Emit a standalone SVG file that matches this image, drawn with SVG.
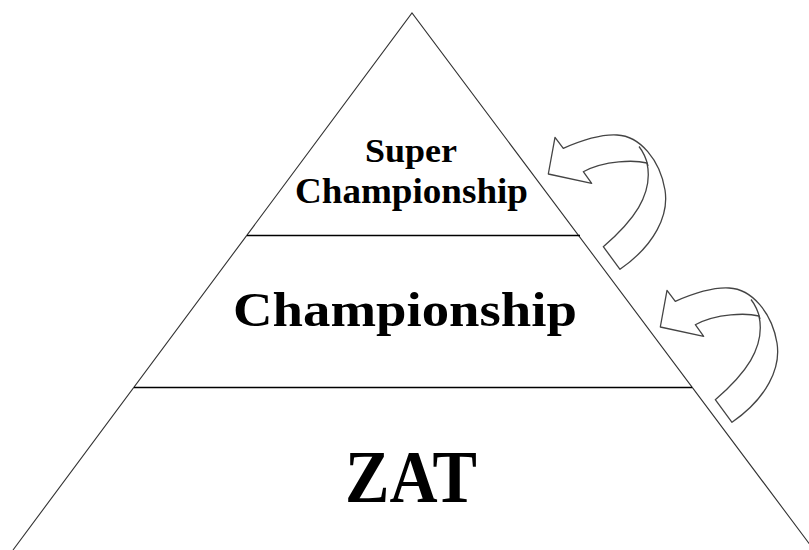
<svg xmlns="http://www.w3.org/2000/svg" xmlns:xlink="http://www.w3.org/1999/xlink" width="809" height="550" viewBox="0 0 809 550">
<style>
.edge{stroke:#333;stroke-width:1.1;fill:none}
.div{stroke:#000;stroke-width:1.6;fill:none}
.lbl{font-family:"Liberation Serif","Times New Roman",serif;font-weight:bold;fill:#000;text-anchor:middle}
.arrow{fill:#fff;stroke:#444;stroke-width:1.3;stroke-linejoin:round}
.seam{fill:none;stroke:#444;stroke-width:1.3}
</style>
<defs>
<g id="curvedArrow">
<path class="arrow" d="M548.3,174 L555,137.3 L563.3,148.3 C580,141 600,134 617,135 C640,136 660,160 665,190 C669,215 655,245 620,269.3 L603.3,246.7 C632,222 654,195 647,163 C635,160 605,160 583.3,171.7 L591.7,183.3 Z"/>
<path class="seam" d="M639,146.5 Q645,154 648,166"/>
</g>
</defs>
<rect width="809" height="550" fill="#fff"/>
<g id="pyramid">
<path class="edge" d="M13,550 L412,13 L814,550"/>
</g>
<g id="tier-top">
<line class="div" x1="247" y1="235.5" x2="580" y2="235.5"/>
<text class="lbl" x="411" y="162" font-size="33" textLength="92" lengthAdjust="spacingAndGlyphs">Super</text>
<text class="lbl" x="411.5" y="203" font-size="35" textLength="233" lengthAdjust="spacingAndGlyphs">Championship</text>
</g>
<g id="tier-middle">
<line class="div" x1="134" y1="387.5" x2="692" y2="387.5"/>
<text class="lbl" x="405" y="326" font-size="48" textLength="344" lengthAdjust="spacingAndGlyphs">Championship</text>
</g>
<g id="tier-bottom">
<text class="lbl" x="411" y="502" font-size="75" textLength="132" lengthAdjust="spacingAndGlyphs">ZAT</text>
</g>
<g id="connectors">
<use xlink:href="#curvedArrow"/>
<use xlink:href="#curvedArrow" transform="translate(112,153)"/>
</g>
</svg>
